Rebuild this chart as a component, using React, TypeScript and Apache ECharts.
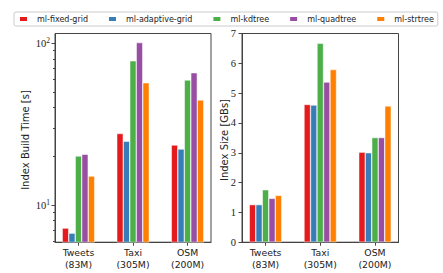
import React, { useEffect, useRef } from 'react';
import * as echarts from 'echarts';

const CATEGORIES = ['Tweets\n(83M)', 'Taxi\n(305M)', 'OSM\n(200M)'];
const SERIES_NAMES = ['ml-fixed-grid', 'ml-adaptive-grid', 'ml-kdtree', 'ml-quadtree', 'ml-strtree'];
const COLORS = ['#e41a1c', '#377eb8', '#4daf4a', '#984ea3', '#ff7f00'];
// Index build time [s], per series, per category
const BUILD_TIME = [
  [7.2, 27.7, 23.5],
  [6.7, 24.8, 22.2],
  [20.1, 78, 59.3],
  [20.6, 101, 65.8],
  [15.1, 57, 44.6],
];
// Index size [GBs], per series, per category
const INDEX_SIZE = [
  [1.26, 4.62, 3.02],
  [1.26, 4.6, 3.0],
  [1.76, 6.67, 3.51],
  [1.47, 5.37, 3.51],
  [1.57, 5.79, 4.57],
];
const CAT_POS = [0, 1, 2];
const LOG_MAJOR = [10, 100];
const LOG_MINOR = [6, 7, 8, 9, 20, 30, 40, 50, 60, 70, 80, 90];
const SIZE_MIN = 0;
const SIZE_MAX = 7;
const SIZE_STEP = 1;

const AX = '#444';
const TXT = '#222';

export default function App() {
  const ref = useRef<HTMLDivElement>(null);
  useEffect(() => {
    if (!ref.current) return;
    const chart = echarts.init(ref.current, null, { renderer: 'svg' });
    const gridBase = { show: true, borderColor: AX, borderWidth: 1, backgroundColor: 'transparent' };
    const xAxisBase = (gi: number) => ({
      type: 'value',
      gridIndex: gi,
      min: -0.43,
      max: 2.43,
      splitLine: { show: false },
      axisLine: { show: true, onZero: false, lineStyle: { color: AX, width: 1 } },
      axisTick: { show: true, customValues: CAT_POS, length: 3.5, lineStyle: { color: AX } },
      axisLabel: {
        customValues: CAT_POS,
        formatter: (v: number) => CATEGORIES[Math.round(v)],
        fontFamily: 'DejaVu Sans',
        fontSize: 9.3,
        lineHeight: 11.5,
        color: TXT,
        margin: 5,
      },
    });
    const series: any[] = [];
    SERIES_NAMES.forEach((name, s) => {
      const common = {
        type: 'bar',
        name,
        barWidth: 6.5,
        barGap: '0%',
        itemStyle: { color: COLORS[s], borderColor: '#fff', borderWidth: 0.5 },
      };
      series.push({ ...common, xAxisIndex: 0, yAxisIndex: 0, data: BUILD_TIME[s].map((v, i) => [CAT_POS[i], v]) });
      series.push({ ...common, xAxisIndex: 1, yAxisIndex: 2, data: INDEX_SIZE[s].map((v, i) => [CAT_POS[i], v]) });
    });
    chart.setOption({
      animation: false,
      color: COLORS,
      legend: {
        data: SERIES_NAMES,
        left: 14,
        top: 12,
        width: 430,
        itemWidth: 9,
        itemHeight: 6,
        itemGap: 19,
        padding: [3, 4, 3, 4],
        borderColor: '#ccc',
        borderWidth: 1,
        borderRadius: 2,
        icon: 'rect',
        textStyle: { fontFamily: 'DejaVu Sans', fontSize: 8, color: TXT, padding: [0, 0, 0, 4] },
      },
      grid: [
        { ...gridBase, left: 55, top: 33.5, width: 156, height: 208.7 },
        { ...gridBase, left: 242, top: 33.5, width: 156.5, height: 208.7 },
      ],
      xAxis: [xAxisBase(0), xAxisBase(1)],
      yAxis: [
        {
          type: 'log',
          logBase: 10,
          gridIndex: 0,
          position: 'left',
          min: 5.89,
          max: 115,
          splitLine: { show: false },
          axisLine: { show: true, onZero: false, lineStyle: { color: AX, width: 1 } },
          axisTick: { show: true, customValues: LOG_MAJOR, length: 3.5, lineStyle: { color: AX } },
          axisLabel: {
            customValues: LOG_MAJOR,
            margin: 5,
            formatter: (v: number) => '{a|10}{b|' + Math.round(Math.log10(v)) + '}',
            rich: {
              a: { fontFamily: 'Liberation Serif', fontSize: 10.5, color: TXT },
              b: { fontFamily: 'Liberation Serif', fontSize: 7.5, color: TXT, verticalAlign: 'top', padding: [0, 0, 6, 0] },
            },
          },
        },
        {
          type: 'log',
          logBase: 10,
          gridIndex: 0,
          position: 'left',
          offset: 0,
          min: 5.89,
          max: 115,
          splitLine: { show: false },
          axisLine: { show: false, onZero: false },
          axisTick: { show: true, customValues: LOG_MINOR, length: 2, lineStyle: { color: AX } },
          axisLabel: { show: false },
        },
        {
          type: 'value',
          gridIndex: 1,
          position: 'left',
          min: SIZE_MIN,
          max: SIZE_MAX,
          interval: SIZE_STEP,
          splitLine: { show: false },
          axisLine: { show: true, onZero: false, lineStyle: { color: AX, width: 1 } },
          axisTick: { show: true, length: 3.5, lineStyle: { color: AX } },
          axisLabel: { fontFamily: 'Liberation Serif', fontSize: 10.5, color: TXT, margin: 6 },
        },
      ],
      graphic: [
        {
          type: 'text',
          x: 25,
          y: 140,
          rotation: Math.PI / 2,
          style: { text: 'Index Build Time [s]', fontFamily: 'DejaVu Sans', fontSize: 10, fill: TXT, align: 'center', verticalAlign: 'middle' },
        },
        {
          type: 'text',
          x: 224,
          y: 140,
          rotation: Math.PI / 2,
          style: { text: 'Index Size [GBs]', fontFamily: 'DejaVu Sans', fontSize: 10, fill: TXT, align: 'center', verticalAlign: 'middle' },
        },
      ],
      series,
    });
    return () => chart.dispose();
  }, []);
  return <div ref={ref} style={{ position: 'absolute', left: 0, top: 0, width: 443, height: 273 }} />;
}
